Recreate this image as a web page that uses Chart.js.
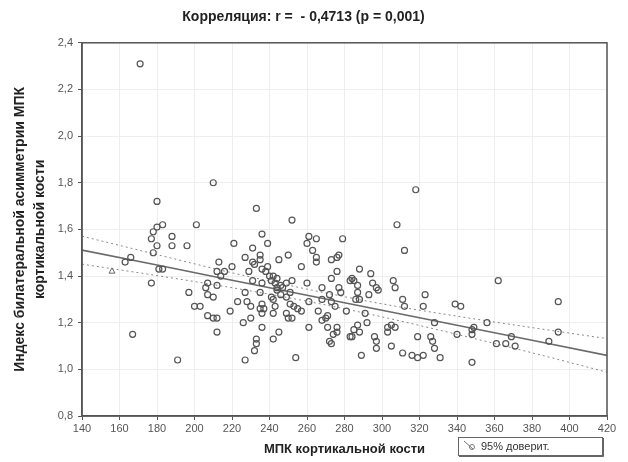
<!DOCTYPE html>
<html>
<head>
<meta charset="utf-8">
<script src="https://cdn.jsdelivr.net/npm/chart.js@4"></script>
<style>
  html, body { margin: 0; padding: 0; background: #fff; }
  #wrap { width: 628px; height: 462px; position: relative; }
</style>
</head>
<body>
<div id="wrap"><canvas id="grafico" width="628" height="462"></canvas></div>
<script>
// МПК кортикальной кости (ось X)
const mpk = [
  171, 210, 318, 180, 233, 201, 252, 308, 177, 178, 180, 183, 180, 178, 188, 188,
  196, 163, 166, 181, 183, 177, 167, 191, 197, 200, 203, 207, 210, 212, 212, 207,
  206, 207, 210, 212, 213, 212, 214, 216, 220, 221, 219, 223, 226, 227, 227, 227,
  229, 231, 231, 231, 232, 235, 235, 236, 239, 228, 230, 230, 236, 236, 236, 235,
  237, 236, 236, 233, 233, 232, 238, 239, 240, 241, 242, 243, 242, 242, 245, 243,
  244, 244, 245, 246, 247, 249, 250, 249, 250, 252, 251, 252, 251, 253, 254, 255,
  257, 257, 260, 261, 261, 260, 261, 265, 263, 265, 265, 266, 268, 268, 268, 270,
  271, 272, 271, 272, 273, 273, 273, 275, 274, 276, 276, 273, 276, 277, 277, 278,
  279, 283, 281, 283, 312, 288, 294, 284, 285, 287, 287, 286, 288, 295, 297, 298,
  293, 291, 292, 287, 288, 285, 284, 289, 296, 297, 297, 305, 303, 305, 307, 303,
  306, 307, 311, 312, 311, 316, 319, 322, 319, 323, 322, 326, 327, 328, 331, 328,
  339, 342, 340, 348, 349, 348, 348, 356, 362, 361, 366, 369, 371, 389, 394, 394,
  242, 244, 235, 241, 246, 249, 276
];
// Индекс билатеральной асимметрии МПК (ось Y)
const indeks = [
  2.31, 1.80, 1.77, 1.72, 1.69, 1.62, 1.64, 1.62, 1.56, 1.59, 1.61, 1.62, 1.53, 1.50, 1.57, 1.53,
  1.53, 1.46, 1.48, 1.43, 1.43, 1.37, 1.15, 1.04, 1.33, 1.27, 1.27, 1.23, 1.22, 1.22, 1.16, 1.37,
  1.35, 1.32, 1.31, 1.36, 1.46, 1.42, 1.40, 1.42, 1.44, 1.54, 1.25, 1.29, 1.20, 1.04, 1.33, 1.48,
  1.42, 1.38, 1.52, 1.46, 1.45, 1.49, 1.47, 1.58, 1.54, 1.29, 1.27, 1.22, 1.37, 1.43, 1.28, 1.26,
  1.26, 1.24, 1.18, 1.13, 1.11, 1.08, 1.42, 1.44, 1.40, 1.38, 1.30, 1.27, 1.24, 1.13, 1.16, 1.37,
  1.35, 1.34, 1.47, 1.36, 1.35, 1.37, 1.49, 1.24, 1.22, 1.22, 1.33, 1.38, 1.28, 1.27, 1.05, 1.26,
  1.44, 1.25, 1.37, 1.29, 1.18, 1.54, 1.57, 1.56, 1.51, 1.48, 1.46, 1.25, 1.30, 1.35, 1.21, 1.22,
  1.23, 1.32, 1.18, 1.12, 1.39, 1.47, 1.29, 1.27, 1.15, 1.18, 1.16, 1.11, 1.42, 1.49, 1.35, 1.33,
  1.56, 1.38, 1.25, 1.14, 1.51, 1.43, 1.41, 1.39, 1.38, 1.36, 1.33, 1.30, 1.30, 1.37, 1.35, 1.34,
  1.32, 1.24, 1.20, 1.19, 1.16, 1.17, 1.14, 1.06, 1.14, 1.12, 1.09, 1.10, 1.18, 1.19, 1.18, 1.16,
  1.38, 1.35, 1.30, 1.27, 1.07, 1.06, 1.05, 1.06, 1.14, 1.32, 1.27, 1.14, 1.12, 1.09, 1.05, 1.20,
  1.28, 1.27, 1.15, 1.17, 1.18, 1.15, 1.03, 1.20, 1.38, 1.11, 1.11, 1.14, 1.10, 1.12, 1.29, 1.16,
  1.40, 1.39, 1.33, 1.31, 1.32, 1.31, 1.48
];

// отдельная точка-треугольник
const triX = [156];
const triY = [1.42];

// линия регрессии и 95% доверительные границы
const lineX = [140, 180, 220, 260, 300, 340, 380, 420];
const regr  = [1.511, 1.447, 1.382, 1.318, 1.253, 1.189, 1.125, 1.060];
const upper = [1.571, 1.492, 1.414, 1.344, 1.281, 1.228, 1.179, 1.132];
const lower = [1.451, 1.402, 1.350, 1.292, 1.225, 1.150, 1.071, 0.988];

const xTicks = [140, 160, 180, 200, 220, 240, 260, 280, 300, 320, 340, 360, 380, 400, 420];
const yTickLabels = ["0,8", "1,0", "1,2", "1,4", "1,6", "1,8", "2,0", "2,2", "2,4"];

const pares = (xs, ys) => xs.map((x, i) => ({ x: x, y: ys[i] }));

// legenda desenhada como caixa no canto inferior direito
const legendaCaixa = {
  id: "legendaCaixa",
  afterDraw(chart) {
    const ctx = chart.ctx;
    ctx.save();
    ctx.strokeStyle = "#666";
    ctx.lineWidth = 1;
    ctx.strokeRect(458.5, 437.5, 144, 18);
    ctx.beginPath();
    ctx.moveTo(603.5, 438); ctx.lineTo(603.5, 456.5); ctx.lineTo(459, 456.5);
    ctx.stroke();
    ctx.strokeStyle = "#777";
    ctx.beginPath();
    ctx.moveTo(464, 441); ctx.lineTo(473, 449);
    ctx.stroke();
    ctx.beginPath();
    ctx.arc(472, 447, 2.5, 0, Math.PI * 2);
    ctx.stroke();
    ctx.fillStyle = "#333";
    ctx.font = "11px 'Liberation Sans', Arial, sans-serif";
    ctx.textBaseline = "middle";
    ctx.fillText("95% доверит.", 481, 447);
    ctx.restore();
  }
};

// moldura do gráfico
const moldura = {
  id: "moldura",
  afterDatasetsDraw(chart) {
    const a = chart.chartArea;
    const ctx = chart.ctx;
    ctx.save();
    ctx.strokeStyle = "#555";
    ctx.lineWidth = 1.5;
    ctx.strokeRect(a.left, a.top, a.right - a.left, a.bottom - a.top);
    ctx.restore();
  }
};

const fonte = "'Liberation Sans', Arial, sans-serif";

new Chart(document.getElementById("grafico"), {
  type: "scatter",
  data: {
    datasets: [
      {
        label: "точки",
        data: pares(mpk, indeks),
        pointRadius: 3,
        pointBorderWidth: 1.2,
        borderColor: "#555",
        backgroundColor: "rgba(255,255,255,0)"
      },
      {
        label: "треугольник",
        data: pares(triX, triY),
        pointStyle: "triangle",
        pointRadius: 3.5,
        pointBorderWidth: 1,
        borderColor: "#666",
        backgroundColor: "rgba(255,255,255,0)"
      },
      {
        type: "line",
        label: "регрессия",
        data: pares(lineX, regr),
        borderColor: "#6a6a6a",
        borderWidth: 1.6,
        pointRadius: 0,
        tension: 0
      },
      {
        type: "line",
        label: "95% доверит.",
        data: pares(lineX, upper),
        borderColor: "#8a8a8a",
        borderWidth: 1,
        borderDash: [2, 3],
        pointRadius: 0,
        cubicInterpolationMode: "monotone"
      },
      {
        type: "line",
        label: "95% доверит. (н)",
        data: pares(lineX, lower),
        borderColor: "#8a8a8a",
        borderWidth: 1,
        borderDash: [2, 3],
        pointRadius: 0,
        cubicInterpolationMode: "monotone"
      }
    ]
  },
  options: {
    responsive: false,
    animation: false,
    layout: { padding: { left: 0, right: 21, top: 0, bottom: 0 } },
    plugins: {
      legend: { display: false },
      tooltip: { enabled: false },
      title: {
        display: true,
        text: "Корреляция: r =  - 0,4713 (p = 0,001)",
        color: "#222",
        font: { family: fonte, size: 14, weight: "bold" },
        padding: { top: 9, bottom: 17 }
      }
    },
    scales: {
      x: {
        type: "linear",
        min: 140,
        max: 420,
        afterBuildTicks: s => { s.ticks = xTicks.map(v => ({ value: v })); },
        afterFit: s => { s.height = 46; },
        ticks: {
          color: "#555",
          padding: 2,
          font: { family: fonte, size: 11 }
        },
        grid: { color: "#eeeeee", tickColor: "#555", tickLength: 4 },
        border: { color: "#555", width: 1.5 },
        title: {
          display: true,
          text: "МПК кортикальной кости",
          color: "#222",
          font: { family: fonte, size: 13, weight: "bold" },
          padding: { top: 4, bottom: 5 }
        }
      },
      y: {
        min: 0.8,
        max: 2.4,
        afterBuildTicks: s => { s.ticks = yTickLabels.map((t, i) => ({ value: 0.8 + i * 0.2 })); },
        afterFit: s => { s.width = 82; },
        ticks: {
          color: "#555",
          padding: 5,
          font: { family: fonte, size: 11 },
          callback: (v, i) => yTickLabels[i]
        },
        grid: { color: "#eeeeee", tickColor: "#555", tickLength: 4 },
        border: { color: "#555", width: 1.5 },
        title: {
          display: true,
          text: ["Индекс билатеральной асимметрии МПК", "кортикальной кости"],
          color: "#222",
          font: { family: fonte, size: 14, weight: "bold", lineHeight: 1.45 },
          padding: { top: 10, bottom: 4 }
        }
      }
    }
  },
  plugins: [moldura, legendaCaixa]
});
</script>
</body>
</html>
